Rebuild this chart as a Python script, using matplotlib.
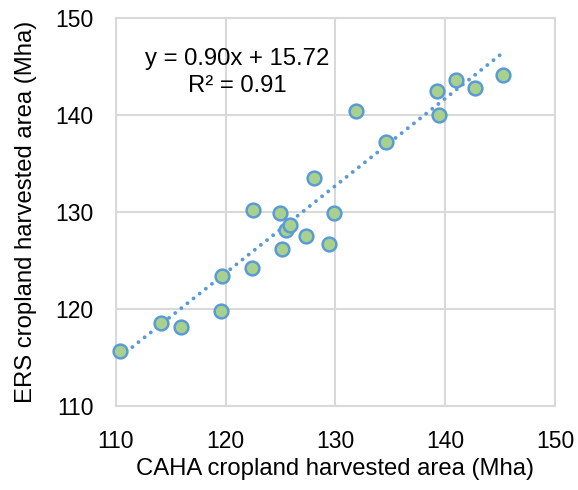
import matplotlib.pyplot as plt
import numpy as np

plt.rcParams['font.family'] = ['Liberation Sans', 'DejaVu Sans']

# CAHA (x) vs ERS (y) cropland harvested area, Mha
caha = [110.4, 114.1, 115.9, 119.6, 119.7, 122.4, 122.5, 125.0, 125.1, 125.5,
        125.9, 127.3, 129.4, 129.9, 128.1, 131.9, 134.6, 139.3, 139.4, 141.0,
        142.7, 145.3]
ers = [115.7, 118.6, 118.1, 119.8, 123.4, 124.2, 130.2, 129.9, 126.2, 128.2,
       128.7, 127.5, 126.7, 129.9, 133.5, 140.4, 137.2, 142.5, 140.0, 143.6,
       142.8, 144.1]

slope = 0.90
intercept = 15.72
r2 = 0.91

fig = plt.figure(figsize=(5.78, 4.90), dpi=100)
ax = fig.add_axes([0.2002, 0.1714, 0.7600, 0.7913])

grid_col = '#D9D9D9'
ax.set_xlim(110, 150)
ax.set_ylim(110, 150)
ax.set_xticks([110, 120, 130, 140, 150])
ax.set_yticks([110, 120, 130, 140, 150])
ax.grid(True, color=grid_col, linewidth=1.5)
ax.set_axisbelow(True)
for s in ax.spines.values():
    s.set_color(grid_col)
    s.set_linewidth(1.5)
ax.tick_params(length=0, labelsize=16.5, colors='black')
ax.tick_params(axis='x', pad=17)
ax.tick_params(axis='y', pad=16)

# trendline
xs = np.array([min(caha), max(caha)])
ax.plot(xs, slope * xs + intercept, linestyle=(0, (0.01, 2.0)), color='#5B9BD5',
        linewidth=2.8, dash_capstyle='round', zorder=2)

ax.scatter(caha, ers, s=98, facecolor='#A9D18E', edgecolor='#5B9BD5',
           linewidth=1.8, zorder=3, clip_on=False)

ax.text(0.277, 0.86, f"y = {slope:.2f}x + {intercept:.2f}\nR² = {r2:.2f}",
        transform=ax.transAxes, ha='center', va='center', fontsize=17.2,
        linespacing=1.3)

ax.set_xlabel("CAHA cropland harvested area (Mha)", fontsize=17.2, labelpad=4)
ax.set_ylabel("ERS cropland harvested area (Mha)", fontsize=17.2, labelpad=13)

fig.savefig("out.png", dpi=100)
